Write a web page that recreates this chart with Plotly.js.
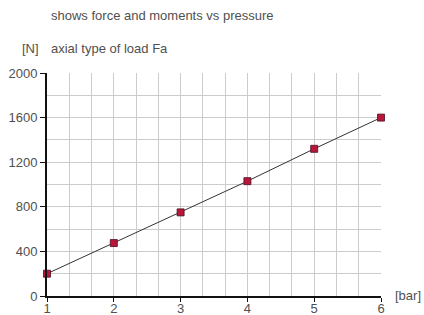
<!DOCTYPE html>
<html><head><meta charset="utf-8">
<script src="https://cdn.plot.ly/plotly-3.0.1.min.js"></script>
<style>html,body{margin:0;padding:0;background:#fff}#chart{width:424px;height:315px}</style>
</head><body><div id="chart"></div>
<script>
const pressure = [1, 2, 3, 4, 5, 6];
const force = [200, 475, 750, 1030, 1320, 1600];
const xTicks = [1, 2, 3, 4, 5, 6];
const yTicks = [0, 400, 800, 1200, 1600, 2000];

const trace = {
  x: pressure, y: force, type: 'scatter', mode: 'lines+markers',
  line: {color: '#333', width: 1},
  marker: {symbol: 'square', size: 7, color: '#b8163a', line: {color: '#4a1020', width: 0.8}},
  cliponaxis: false, hoverinfo: 'none'
};
const fontC = '#505050';
const layout = {
  width: 424, height: 315,
  margin: {l: 47, r: 43, t: 73, b: 19},
  paper_bgcolor: '#fff', plot_bgcolor: '#fff',
  font: {family: 'Liberation Sans, Arial, sans-serif', size: 13, color: fontC},
  showlegend: false,
  xaxis: {
    range: [1, 6], tickvals: xTicks, ticktext: xTicks.map(String),
    showline: true, linecolor: '#111', linewidth: 2,
    ticks: 'outside', ticklen: 4, tickcolor: '#111', tickwidth: 1,
    ticklabelstandoff: -5,
    showgrid: true, gridcolor: '#cccccc', gridwidth: 1,
    minor: {dtick: 1/3, tick0: 1, showgrid: true, gridcolor: '#cccccc', gridwidth: 1, ticks: ''},
    zeroline: false, fixedrange: true, tickfont: {size: 13, color: fontC}
  },
  yaxis: {
    range: [0, 2000], tickvals: yTicks, ticktext: yTicks.map(String),
    showline: true, linecolor: '#111', linewidth: 2,
    ticks: 'outside', ticklen: 5, tickcolor: '#111', tickwidth: 1,
    showgrid: true, gridcolor: '#cccccc', gridwidth: 1,
    minor: {dtick: 200, tick0: 0, showgrid: true, gridcolor: '#cccccc', gridwidth: 1, ticks: ''},
    zeroline: false, fixedrange: true, tickfont: {size: 13, color: fontC}
  },
  annotations: [
    {text: 'shows force and moments vs pressure', xref: 'paper', yref: 'paper', x: 0, xshift: 2, y: 1, yshift: 58, xanchor: 'left', yanchor: 'middle', showarrow: false, font: {size: 13, color: fontC}},
    {text: '[N]', xref: 'paper', yref: 'paper', x: 0, xshift: -27, y: 1, yshift: 25, xanchor: 'left', yanchor: 'middle', showarrow: false, font: {size: 13, color: fontC}},
    {text: 'axial type of load Fa', xref: 'paper', yref: 'paper', x: 0, xshift: 2, y: 1, yshift: 25, xanchor: 'left', yanchor: 'middle', showarrow: false, font: {size: 13, color: fontC}},
    {text: '[bar]', xref: 'paper', yref: 'paper', x: 1, xshift: 12, y: 0, yshift: 1, xanchor: 'left', yanchor: 'middle', showarrow: false, font: {size: 13, color: fontC}}
  ]
};
Plotly.newPlot('chart', [trace], layout, {displayModeBar: false, staticPlot: true});
</script></body></html>
